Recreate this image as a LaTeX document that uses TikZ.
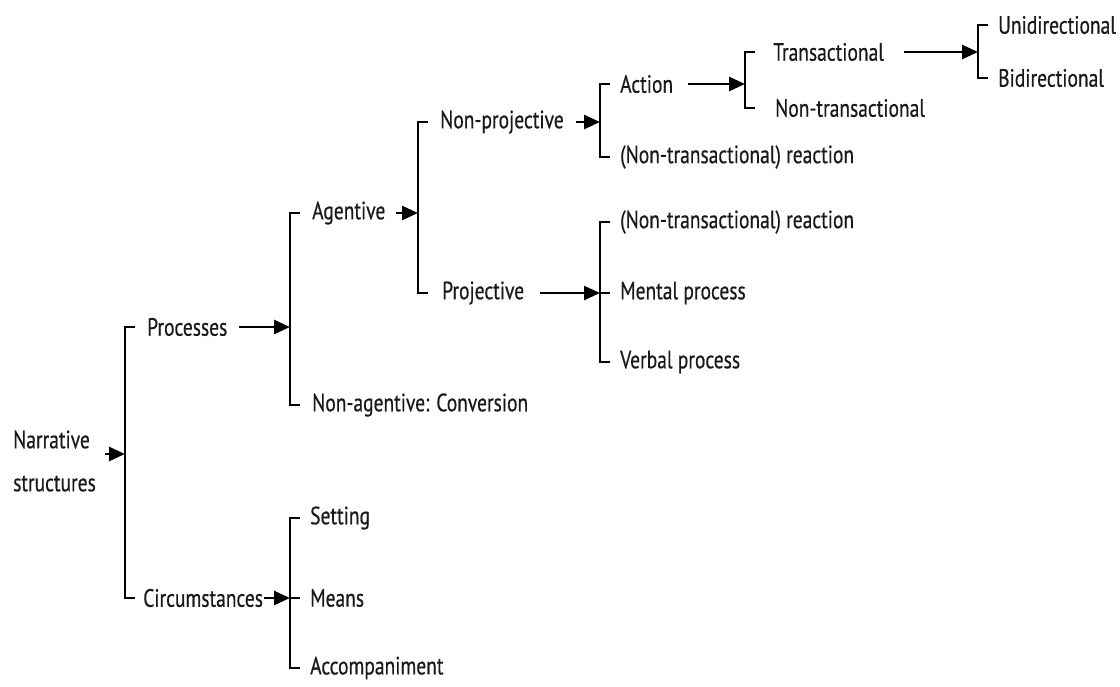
\documentclass[tikz,border=0pt]{standalone}
\usepackage{fontspec}
\setmainfont[FakeStretch=0.78,FakeBold=0.5]{PT Sans}
\usetikzlibrary{arrows.meta}
\begin{document}
\begin{tikzpicture}[x=1pt,y=-1pt,
  lbl/.style={anchor=west,inner xsep=0pt,inner ysep=2pt,
    font=\fontsize{25}{30}\selectfont,text=black!90},
  feed/.style={line width=2.6pt,-{Triangle[length=16pt,width=14pt]}},
  brace/.style={line width=2.4pt}]
\useasboundingbox (0,0) rectangle (1120,686);

% spines of the brackets (x of the vertical bar, y where the arrow meets it)
\coordinate (s1) at (125,454);
\coordinate (s2) at (290,327);
\coordinate (s3) at (418,213);
\coordinate (s4) at (600,122);
\coordinate (s5) at (745,84);
\coordinate (s6) at (978,52);
\coordinate (s7) at (600,293);
\coordinate (s8) at (290,598);

% labels
\node[lbl,align=left,font=\fontsize{25}{43}\selectfont] (ns) at (13,461) {Narrative\\structures};
\node[lbl] (pr)  at (147,327) {Processes};
\node[lbl] (ci)  at (143,598) {Circumstances};
\node[lbl] (ag)  at (312,213) {Agentive};
\node[lbl] (nag) at (312,405) {Non-agentive: Conversion};
\node[lbl] (np)  at (440,122) {Non-projective};
\node[lbl] (pj)  at (442,293) {Projective};
\node[lbl] (ac)  at (620,84)  {Action};
\node[lbl] (rx1) at (620,157) {(Non-transactional) reaction};
\node[lbl] (tr)  at (773,52)  {Transactional};
\node[lbl] (nt)  at (775,108) {Non-transactional};
\node[lbl] (un)  at (998,25)  {Unidirectional};
\node[lbl] (bi)  at (998,78)  {Bidirectional};
\node[lbl] (rx2) at (620,222) {(Non-transactional) reaction};
\node[lbl] (me)  at (620,293) {Mental process};
\node[lbl] (vb)  at (620,362) {Verbal process};
\node[lbl] (se)  at (310,518) {Setting};
\node[lbl] (mn)  at (310,598) {Means};
\node[lbl] (acc) at (310,668) {Accompaniment};

% brackets
\draw[brace] (s1 |- pr) ++(10,0) -- (s1 |- pr) -- (s1 |- ci) -- ++(10,0);
\draw[brace] (s2 |- ag) ++(10,0) -- (s2 |- ag) -- (s2 |- nag) -- ++(10,0);
\draw[brace] (s3 |- np) ++(10,0) -- (s3 |- np) -- (s3 |- pj) -- ++(10,0);
\draw[brace] (s4 |- ac) ++(10,0) -- (s4 |- ac) -- (s4 |- rx1) -- ++(10,0);
\draw[brace] (s5 |- tr) ++(10,0) -- (s5 |- tr) -- (s5 |- nt) -- ++(10,0);
\draw[brace] (s6 |- un) ++(10,0) -- (s6 |- un) -- (s6 |- bi) -- ++(10,0);
\draw[brace] (s7 |- rx2) ++(10,0) -- (s7 |- rx2) -- (s7 |- vb) -- ++(10,0);
\draw[brace] (s7 |- me) -- ++(10,0);
\draw[brace] (s8 |- se) ++(10,0) -- (s8 |- se) -- (s8 |- acc) -- ++(10,0);
\draw[brace] (s8 |- mn) -- ++(10,0);

% arrows into the brackets
\draw[feed] (ns.east |- s1) ++(9,0) -- (s1);
\draw[feed] (pr.east) ++(12,0) -- (s2);
\draw[feed] (ci.east) ++(1,0) -- (s8);
\draw[feed] (ag.east) ++(10,0) -- (s3);
\draw[feed] (np.east) ++(12,0) -- (s4);
\draw[feed] (pj.east) ++(16,0) -- (s7);
\draw[feed] (ac.east) ++(15,0) -- (s5);
\draw[feed] (tr.east) ++(20,0) -- (s6);
\end{tikzpicture}
\end{document}
